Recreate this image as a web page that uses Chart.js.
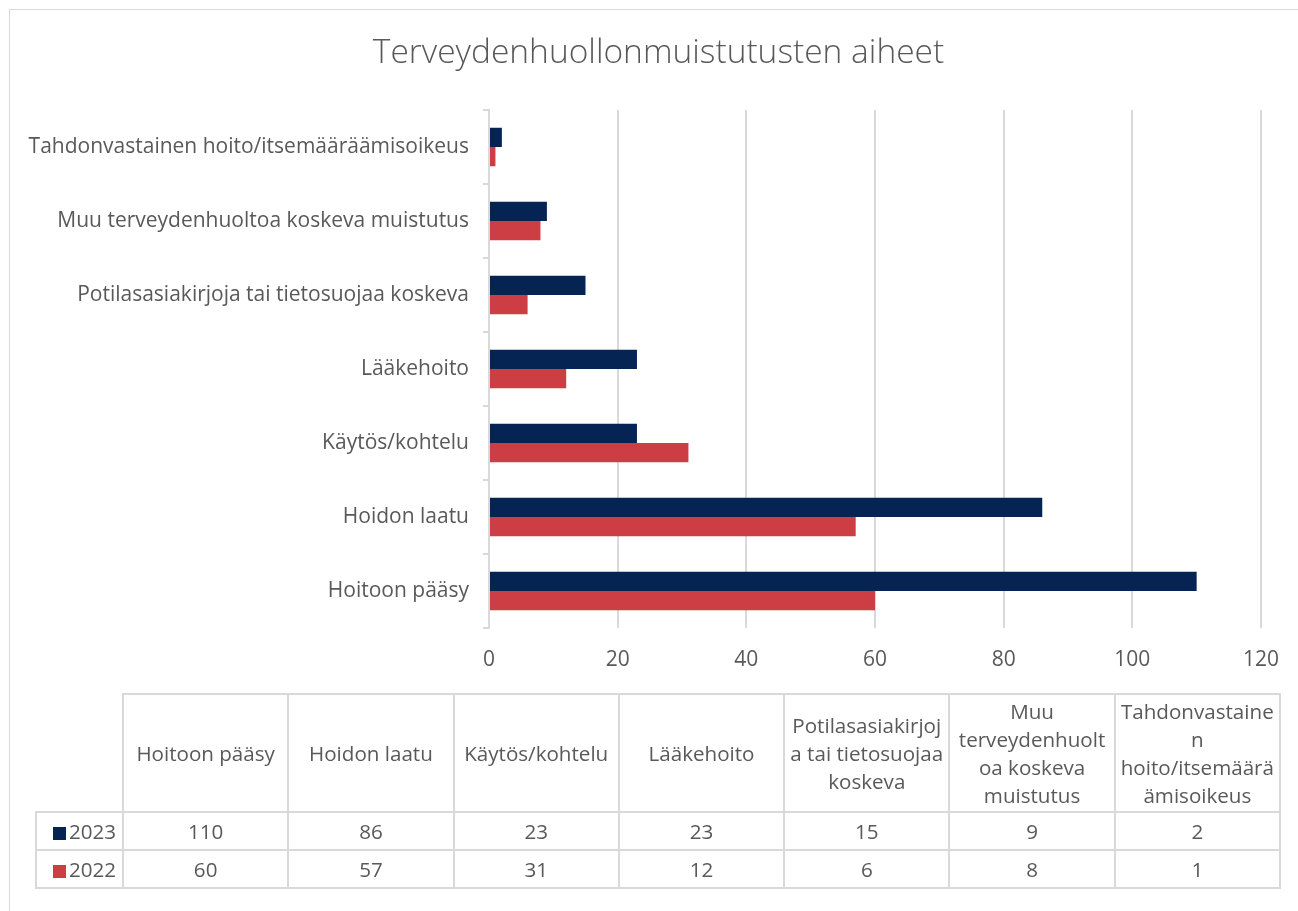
<!DOCTYPE html>
<html>
<head>
<meta charset="utf-8">
<script src="https://cdn.jsdelivr.net/npm/chart.js@4.4.1/dist/chart.umd.min.js"></script>
<style>
  html, body { margin: 0; padding: 0; background: #fff; }
  #wrap { position: relative; width: 1298px; height: 911px; overflow: hidden; }
  #frame { position: absolute; left: 9px; top: 9px; width: 1300px; height: 920px; border: 1px solid #d9d9d9; box-sizing: border-box; }
  #c { position: absolute; left: 0; top: 0; }
  table.dt { position: absolute; left: 35px; top: 693px; width: 1246px; table-layout: fixed; border-collapse: collapse; font-family: "Open Sans", sans-serif; font-size: 20.6px; color: #595959; }
  table.dt td { border: 2px solid #d9d9d9; text-align: center; padding: 0; overflow: visible; white-space: nowrap; }
  table.dt td.blank { border-top: none; border-left: none; }
  table.dt tr.hdr td { height: 116px; line-height: 28px; }
  table.dt tr.row td { height: 36px; }
  .key { display: inline-block; width: 13px; height: 13px; margin-right: 3px; vertical-align: -1px; }
</style>
</head>
<body>
<div id="wrap">
  <div id="frame"></div>
  <canvas id="c" width="1298" height="911"></canvas>
  <table class="dt" id="dt"></table>
</div>
<script>
const title = "Terveydenhuollonmuistutusten aiheet";
const categories = ["Hoitoon pääsy", "Hoidon laatu", "Käytös/kohtelu", "Lääkehoito",
  "Potilasasiakirjoja tai tietosuojaa koskeva", "Muu terveydenhuoltoa koskeva muistutus",
  "Tahdonvastainen hoito/itsemääräämisoikeus"];
const tableHeaderLines = [["Hoitoon pääsy"], ["Hoidon laatu"], ["Käytös/kohtelu"], ["Lääkehoito"],
  ["Potilasasiakirjoj", "a tai tietosuojaa", "koskeva"],
  ["Muu", "terveydenhuolt", "oa koskeva", "muistutus"],
  ["Tahdonvastaine", "n", "hoito/itsemäärä", "ämisoikeus"]];
const seriesNames = ["2023", "2022"];
const values2023 = [110, 86, 23, 23, 15, 9, 2];
const values2022 = [60, 57, 31, 12, 6, 8, 1];
const colors = ["#052453", "#CC3E43"];
const xTicks = [0, 20, 40, 60, 80, 100, 120];

const FONT = '"Open Sans", sans-serif';
const TXT = '#595959';

// Title drawn centred on the chart frame (as in the original)
const frameTitle = {
  id: 'frameTitle',
  afterDraw(chart) {
    const ctx = chart.ctx;
    ctx.save();
    ctx.font = '300 33.5px ' + FONT;
    ctx.fillStyle = TXT;
    ctx.textAlign = 'center';
    ctx.textBaseline = 'middle';
    ctx.fillText(title, 658.5, 53);
    ctx.restore();
  }
};

new Chart(document.getElementById('c'), {
  type: 'bar',
  data: {
    labels: categories,
    datasets: [
      { label: seriesNames[0], data: values2023, backgroundColor: colors[0], borderWidth: 0 },
      { label: seriesNames[1], data: values2022, backgroundColor: colors[1], borderWidth: 0 }
    ]
  },
  plugins: [frameTitle],
  options: {
    responsive: false,
    animation: false,
    indexAxis: 'y',
    layout: { padding: { left: 10, right: 34, top: 110, bottom: 233 } },
    plugins: {
      legend: { display: false },
      tooltip: { enabled: false },
      title: { display: false }
    },
    datasets: { bar: { categoryPercentage: 0.52, barPercentage: 1 } },
    scales: {
      x: {
        min: xTicks[0], max: xTicks[xTicks.length - 1],
        afterBuildTicks: (s) => { s.ticks = xTicks.map(v => ({ value: v })); },
        grid: { color: '#d9d9d9', lineWidth: 2, drawTicks: false },
        border: { display: false },
        ticks: { color: TXT, font: { family: FONT, size: 21 }, padding: 19 },
        afterFit: (s) => { s.height = 50; }
      },
      y: {
        reverse: true,
        grid: { drawOnChartArea: false, color: '#d9d9d9', lineWidth: 2, tickLength: 6, offset: true },
        border: { color: '#d9d9d9', width: 2 },
        ticks: { color: TXT, font: { family: FONT, size: 21 }, padding: 14 },
        afterFit: (s) => { s.width = 479; }
      }
    }
  }
});

// Data table below the chart
const tbl = document.getElementById('dt');
let html = '<colgroup><col style="width:87px">' + tableHeaderLines.map(() => '<col>').join('') + '</colgroup>';
html += '<tr class="hdr"><td class="blank"></td>';
tableHeaderLines.forEach(lines => {
  html += '<td>' + lines.join('<br>') + '</td>';
});
html += '</tr>';
[values2023, values2022].forEach((vals, i) => {
  html += '<tr class="row"><td style="text-align:right;padding-right:6px"><span class="key" style="background:' + colors[i] + '"></span>' + seriesNames[i] + '</td>';
  vals.forEach(v => { html += '<td>' + v + '</td>'; });
  html += '</tr>';
});
tbl.innerHTML = html;
</script>
</body>
</html>
